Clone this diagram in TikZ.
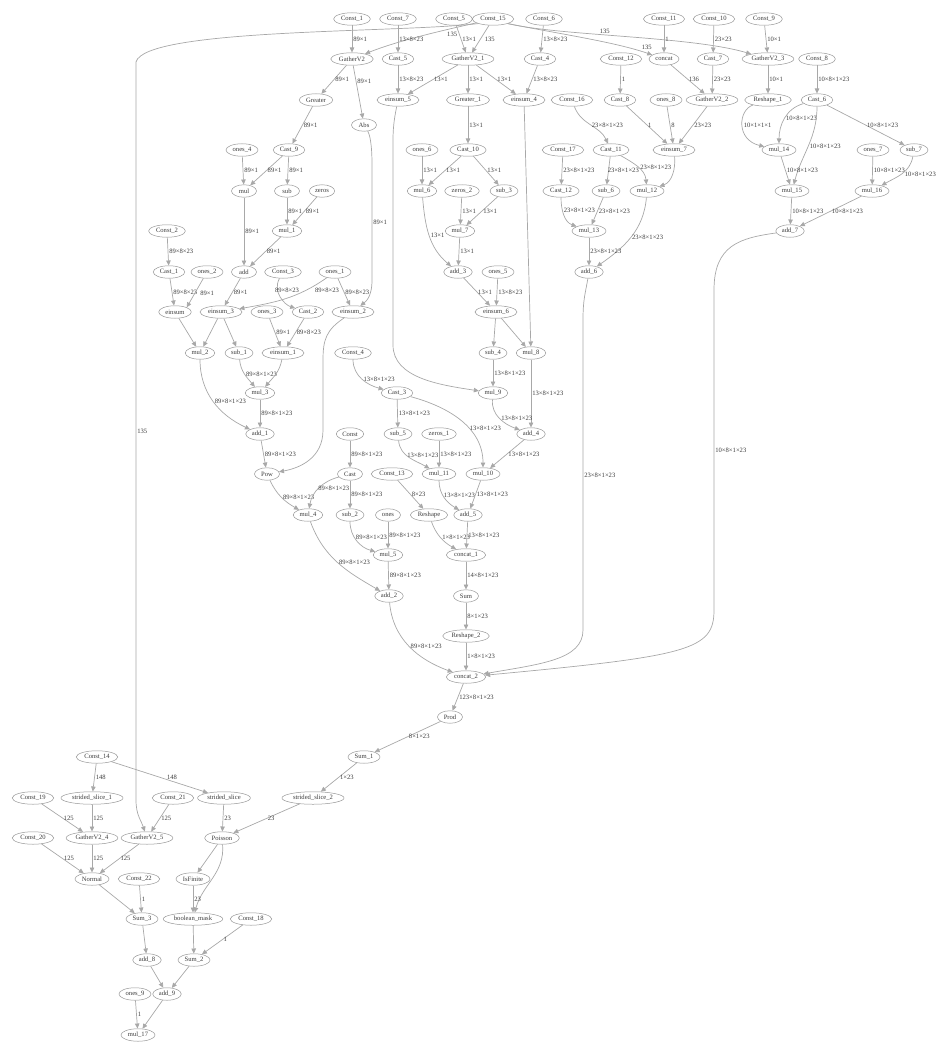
\documentclass[tikz,border=0pt]{standalone}
\usepackage{fontspec}
\setmainfont{Liberation Serif}
\usetikzlibrary{shapes.geometric,arrows.meta}
\definecolor{edgegray}{RGB}{168,168,168}
\definecolor{nodegray}{RGB}{150,150,150}
\definecolor{textgray}{RGB}{60,60,60}
\begin{document}
\begin{tikzpicture}[x=1pt,y=-1pt,every node/.style={font=\fontsize{6.6}{7}\selectfont,text=textgray},
  opnode/.style={ellipse,draw=nodegray,line width=0.5pt,inner xsep=2pt,inner ysep=0.5pt,minimum height=12.5pt,minimum width=25pt},
  link/.style={draw=edgegray,line width=0.7pt,-{Triangle[length=5pt,width=4.5pt]}},
  lbl/.style={anchor=west,inner sep=1pt}]
\useasboundingbox (0,0) rectangle (937,1043);
% row 1
\node[opnode] (const1) at (352,19) {Const\_1}; \node[opnode] (const7) at (398,19) {Const\_7}; \node[opnode] (const5) at (454,19) {Const\_5}; \node[opnode] (const15) at (493,19) {Const\_15};
\node[opnode] (const6) at (544,19) {Const\_6}; \node[opnode] (const11) at (664,19) {Const\_11}; \node[opnode] (const10) at (714,19) {Const\_10}; \node[opnode] (const9) at (764,19) {Const\_9};
% row 2
\node[opnode] (gv) at (352,59) {GatherV2}; \node[opnode] (cast5) at (398,59) {Cast\_5}; \node[opnode] (gv1) at (468,59) {GatherV2\_1}; \node[opnode] (cast4) at (540,59) {Cast\_4};
\node[opnode] (const12) at (621,59) {Const\_12}; \node[opnode] (concat) at (664,59) {concat}; \node[opnode] (cast7) at (713,59) {Cast\_7}; \node[opnode] (gv3) at (768,59) {GatherV2\_3}; \node[opnode] (const8) at (817,59) {Const\_8};
% row 3
\node[opnode] (greater) at (316,100) {Greater}; \node[opnode] (ein5) at (398,100) {einsum\_5}; \node[opnode] (greater1) at (468,100) {Greater\_1}; \node[opnode] (ein4) at (524,100) {einsum\_4};
\node[opnode] (const16) at (572,100) {Const\_16}; \node[opnode] (cast8) at (620,100) {Cast\_8}; \node[opnode] (ones8) at (666,100) {ones\_8}; \node[opnode] (gv2) at (712,100) {GatherV2\_2};
\node[opnode] (reshape1) at (768,100) {Reshape\_1}; \node[opnode] (cast6) at (817,100) {Cast\_6}; \node[opnode] (abs) at (364,125) {Abs};
% row 4
\node[opnode] (ones4) at (242,150) {ones\_4}; \node[opnode] (cast9) at (289,150) {Cast\_9}; \node[opnode] (ones6) at (422,150) {ones\_6}; \node[opnode] (cast10) at (468,150) {Cast\_10};
\node[opnode] (const17) at (563,150) {Const\_17}; \node[opnode] (cast11) at (611,150) {Cast\_11}; \node[opnode] (ein7) at (674,150) {einsum\_7}; \node[opnode] (mul14) at (779,150) {mul\_14};
\node[opnode] (ones7) at (873,150) {ones\_7}; \node[opnode] (sub7) at (914,150) {sub\_7};
% row 5
\node[opnode] (mul) at (244,191) {mul}; \node[opnode] (sub) at (287,191) {sub}; \node[opnode] (zeros) at (322,191) {zeros}; \node[opnode] (mul6) at (422,191) {mul\_6};
\node[opnode] (zeros2) at (462,191) {zeros\_2}; \node[opnode] (sub3) at (504,191) {sub\_3}; \node[opnode] (cast12) at (561,191) {Cast\_12}; \node[opnode] (sub6) at (606,191) {sub\_6};
\node[opnode] (mul12) at (647,191) {mul\_12}; \node[opnode] (mul15) at (792,191) {mul\_15}; \node[opnode] (mul16) at (872,191) {mul\_16};
% row 6
\node[opnode] (const2) at (167,231) {Const\_2}; \node[opnode] (mul1) at (287,231) {mul\_1}; \node[opnode] (mul7) at (460,231) {mul\_7}; \node[opnode] (mul13) at (589,231) {mul\_13}; \node[opnode] (add7) at (790,231) {add\_7};
% row 7
\node[opnode] (cast1) at (169,272) {Cast\_1}; \node[opnode] (ones2) at (207,272) {ones\_2}; \node[opnode] (add) at (244,272) {add}; \node[opnode] (const3) at (283,272) {Const\_3};
\node[opnode] (ones1) at (335,272) {ones\_1}; \node[opnode] (add3) at (458,272) {add\_3}; \node[opnode] (ones5) at (498,272) {ones\_5}; \node[opnode] (add6) at (589,272) {add\_6};
% row 8
\node[opnode] (ein) at (175,312) {einsum}; \node[opnode] (ein3) at (221,312) {einsum\_3}; \node[opnode] (ones3) at (267,312) {ones\_3}; \node[opnode] (cast2) at (308,312) {Cast\_2};
\node[opnode] (ein2) at (353,312) {einsum\_2}; \node[opnode] (ein6) at (496,312) {einsum\_6};
% row 9
\node[opnode] (mul2) at (200,353) {mul\_2}; \node[opnode] (sub1) at (239,353) {sub\_1}; \node[opnode] (ein1) at (283,353) {einsum\_1}; \node[opnode] (const4) at (353,353) {Const\_4};
\node[opnode] (sub4) at (493,353) {sub\_4}; \node[opnode] (mul8) at (531,353) {mul\_8};
% row 10
\node[opnode] (mul3) at (260,393) {mul\_3}; \node[opnode] (cast3) at (397,393) {Cast\_3}; \node[opnode] (mul9) at (493,393) {mul\_9};
% row 11
\node[opnode] (add1) at (260,434) {add\_1}; \node[opnode] (const) at (350,434) {Const}; \node[opnode] (sub5) at (398,434) {sub\_5}; \node[opnode] (zeros1) at (439,434) {zeros\_1}; \node[opnode] (add4) at (531,434) {add\_4};
% row 12
\node[opnode] (pow) at (267,474) {Pow}; \node[opnode] (cast) at (350,474) {Cast}; \node[opnode] (const13) at (392,474) {Const\_13}; \node[opnode] (mul11) at (439,474) {mul\_11}; \node[opnode] (mul10) at (483,474) {mul\_10};
% row 13
\node[opnode] (mul4) at (308,515) {mul\_4}; \node[opnode] (sub2) at (350,515) {sub\_2}; \node[opnode] (ones) at (388,515) {ones}; \node[opnode] (reshape) at (429,515) {Reshape}; \node[opnode] (add5) at (468,515) {add\_5};
% rows 14 - 19
\node[opnode] (mul5) at (388,555) {mul\_5}; \node[opnode] (concat1) at (466,555) {concat\_1};
\node[opnode] (add2) at (389,596) {add\_2}; \node[opnode] (sum) at (466,596) {Sum};
\node[opnode] (reshape2) at (466,636) {Reshape\_2};
\node[opnode] (concat2) at (466,677) {concat\_2};
\node[opnode] (prod) at (450,717) {Prod};
\node[opnode] (sum1) at (364,757) {Sum\_1}; \node[opnode] (const14) at (97,757) {Const\_14};
% bottom part
\node[opnode] (const19) at (33,798) {Const\_19}; \node[opnode] (ss1) at (92,798) {strided\_slice\_1}; \node[opnode] (const21) at (173,798) {Const\_21}; \node[opnode] (ss) at (224,798) {strided\_slice}; \node[opnode] (ss2) at (313,798) {strided\_slice\_2};
\node[opnode] (const20) at (33,838) {Const\_20}; \node[opnode] (gv4) at (92,838) {GatherV2\_4}; \node[opnode] (gv5) at (147,838) {GatherV2\_5}; \node[opnode] (poisson) at (222,838) {Poisson};
\node[opnode] (normal) at (92,879) {Normal}; \node[opnode] (const22) at (139,879) {Const\_22}; \node[opnode] (isfinite) at (193,879) {IsFinite};
\node[opnode] (sum3) at (142,919) {Sum\_3}; \node[opnode] (bmask) at (193,919) {boolean\_mask}; \node[opnode] (const18) at (251,919) {Const\_18};
\node[opnode] (add8) at (147,960) {add\_8}; \node[opnode] (sum2) at (194,960) {Sum\_2};
\node[opnode] (ones9) at (135,994) {ones\_9}; \node[opnode] (add9) at (167,994) {add\_9};
\node[opnode] (mul17) at (138,1035) {mul\_17};
% edges from the top row
\draw[link] (const1) -- node[lbl] {89×1} (gv);
\draw[link] (const15) .. controls (445,30) and (400,40) .. node[lbl,pos=0.45,xshift=18pt] {135} (gv);
\draw[link] (const7) -- node[lbl] {13×8×23} (cast5);
\draw[link] (const5) -- node[lbl] {13×1} (gv1);
\draw[link] (const15) -- node[lbl,xshift=3pt] {135} (gv1);
\draw[link] (const6) -- node[lbl] {13×8×23} (cast4);
\draw[link] (const15.south east) .. controls (560,34) and (615,42) .. node[lbl,pos=0.9,anchor=south west] {135} (concat);
\draw[link] (const15.south east) .. controls (560,36) and (690,36) .. node[lbl,pos=0.4,anchor=south west] {135} (gv3);
\draw[link] (const11) -- node[lbl] {1} (concat);
\draw[link] (const10) -- node[lbl] {23×23} (cast7);
\draw[link] (const9) -- node[lbl] {10×1} (gv3);
\draw[link] (const15.south west) .. controls (400,33) and (145,28) .. (136,62) -- node[lbl] {135} (136,800) .. controls (136,815) and (141,820) .. (gv5);
% second row
\draw[link] (gv) -- node[lbl] {89×1} (greater);
\draw[link] (gv) -- node[lbl,pos=0.3] {89×1} (abs);
\draw[link] (cast5) -- node[lbl] {13×8×23} (ein5);
\draw[link] (gv1) -- node[lbl] {13×1} (ein5);
\draw[link] (gv1) -- node[lbl] {13×1} (greater1);
\draw[link] (gv1) -- node[lbl] {13×1} (ein4);
\draw[link] (cast4) -- node[lbl] {13×8×23} (ein4);
\draw[link] (const12) -- node[lbl] {1} (cast8);
\draw[link] (concat) -- node[lbl] {136} (gv2);
\draw[link] (cast7) -- node[lbl] {23×23} (gv2);
\draw[link] (gv3) -- node[lbl] {10×1} (reshape1);
\draw[link] (const8) -- node[lbl] {10×8×1×23} (cast6);
% third row
\draw[link] (greater) -- node[lbl] {89×1} (cast9);
\draw[link] (greater1) -- node[lbl] {13×1} (cast10);
\draw[link] (const16) to[out=290,in=115] node[lbl] {23×8×1×23} (cast11);
\draw[link] (cast8) -- node[lbl] {1} (ein7);
\draw[link] (ones8) -- node[lbl] {8} (ein7);
\draw[link] (gv2) -- node[lbl] {23×23} (ein7);
\draw[link] (reshape1) .. controls (738,110) and (736,140) .. node[lbl] {10×1×1×1} (mul14);
\draw[link] (cast6) to[out=195,in=90] node[lbl] {10×8×1×23} (mul14);
\draw[link] (cast6) to[out=270,in=75] node[lbl] {10×8×1×23} (mul15);
\draw[link] (cast6) -- node[lbl] {10×8×1×23} (sub7);
\draw[link] (abs) .. controls (370,135) and (372,145) .. (372,165) -- node[lbl] {89×1} (372,280) .. controls (372,298) and (365,302) .. (ein2);
\draw[link] (ein5) .. controls (395,115) and (393,125) .. (393,140) -- (393,345) .. controls (393,378) and (440,385) .. (mul9);
\draw[link] (ein4) -- (mul8);
% fourth row
\draw[link] (ones4) -- node[lbl] {89×1} (mul);
\draw[link] (cast9) -- node[lbl] {89×1} (mul);
\draw[link] (cast9) -- node[lbl] {89×1} (sub);
\draw[link] (ones6) -- node[lbl] {13×1} (mul6);
\draw[link] (cast10) -- node[lbl] {13×1} (mul6);
\draw[link] (cast10) -- node[lbl] {13×1} (sub3);
\draw[link] (const17) -- node[lbl] {23×8×1×23} (cast12);
\draw[link] (cast11) -- node[lbl,xshift=-2pt] {23×8×1×23} (sub6);
\draw[link] (cast11) to[out=-30,in=95] node[lbl,xshift=1pt] {23×8×1×23} (mul12);
\draw[link] (ein7) to[out=275,in=20] (mul12);
\draw[link] (mul14) -- node[lbl] {10×8×1×23} (mul15);
\draw[link] (ones7) -- node[lbl] {10×8×1×23} (mul16);
\draw[link] (sub7) to[out=260,in=30] node[lbl,xshift=2pt] {10×8×1×23} (mul16);
% fifth row
\draw[link] (mul) -- node[lbl] {89×1} (add);
\draw[link] (sub) -- node[lbl] {89×1} (mul1);
\draw[link] (zeros) -- node[lbl] {89×1} (mul1);
\draw[link] (mul6) to[out=275,in=140] node[lbl] {13×1} (add3);
\draw[link] (zeros2) -- node[lbl] {13×1} (mul7);
\draw[link] (sub3) -- node[lbl] {13×1} (mul7);
\draw[link] (cast12) to[out=270,in=160] node[lbl,pos=0.35] {23×8×1×23} (mul13);
\draw[link] (sub6) -- node[lbl] {23×8×1×23} (mul13);
\draw[link] (mul12) to[out=265,in=35] node[lbl] {23×8×1×23} (add6);
\draw[link] (mul15) -- node[lbl] {10×8×1×23} (add7);
\draw[link] (mul16) -- node[lbl] {10×8×1×23} (add7);
\draw[link] (const2) -- node[lbl] {89×8×23} (cast1);
% sixth row
\draw[link] (mul1) -- node[lbl] {89×1} (add);
\draw[link] (mul7) -- node[lbl] {13×1} (add3);
\draw[link] (mul13) -- node[lbl] {23×8×1×23} (add6);
\draw[link] (add7) .. controls (740,238) and (714,245) .. (714,290) -- node[lbl] {10×8×1×23} (714,610) .. controls (714,650) and (690,656) .. (concat2);
\draw[link] (add6) .. controls (585,295) and (583,300) .. (583,320) -- node[lbl] {23×8×1×23} (583,630) .. controls (583,660) and (540,664) .. (concat2);
% einsum rows
\draw[link] (cast1) -- node[lbl] {89×8×23} (ein);
\draw[link] (ones2) -- node[lbl,xshift=4pt] {89×1} (ein.north east);
\draw[link] (add) -- node[lbl] {89×1} (ein3);
\draw[link] (ones1) to[out=215,in=10] node[lbl,pos=0.25,xshift=8pt] {89×8×23} (ein3);
\draw[link] (const3) .. controls (272,292) and (285,305) .. node[lbl,pos=0.3,xshift=-4pt] {89×8×23} (cast2);
\draw[link] (ones1) -- node[lbl] {89×8×23} (ein2);
\draw[link] (add3) -- node[lbl] {13×1} (ein6);
\draw[link] (ones5) -- node[lbl] {13×8×23} (ein6);
\draw[link] (ein) -- (mul2);
\draw[link] (ein3) -- (mul2);
\draw[link] (ein3) -- (sub1);
\draw[link] (ones3) -- node[lbl] {89×1} (ein1);
\draw[link] (cast2) -- node[lbl] {89×8×23} (ein1);
\draw[link] (ein6) -- (sub4);
\draw[link] (ein6) -- (mul8);
\draw[link] (ein2) .. controls (326,330) and (323,340) .. (323,360) -- (323,430) .. controls (323,458) and (300,468) .. (pow);
% middle rows
\draw[link] (mul2) to[out=270,in=155] node[lbl] {89×8×1×23} (add1);
\draw[link] (sub1) to[out=275,in=130] node[lbl] {89×8×1×23} (mul3);
\draw[link] (ein1) to[out=260,in=50] (mul3);
\draw[link] (const4) to[out=270,in=165] node[lbl] {13×8×1×23} (cast3);
\draw[link] (sub4) -- node[lbl] {13×8×1×23} (mul9);
\draw[link] (mul8) -- node[lbl] {13×8×1×23} (add4);
\draw[link] (mul3) -- node[lbl] {89×8×1×23} (add1);
\draw[link] (cast3) -- node[lbl] {13×8×1×23} (sub5);
\draw[link] (cast3) to[out=-15,in=90] node[lbl,pos=0.6] {13×8×1×23} (mul10);
\draw[link] (mul9) to[out=265,in=160] node[lbl] {13×8×1×23} (add4);
\draw[link] (const) -- node[lbl] {89×8×1×23} (cast);
\draw[link] (add1) -- node[lbl] {89×8×1×23} (pow);
\draw[link] (sub5) to[out=275,in=150] node[lbl,pos=0.4] {13×8×1×23} (mul11);
\draw[link] (zeros1) -- node[lbl] {13×8×1×23} (mul11);
\draw[link] (add4) -- node[lbl] {13×8×1×23} (mul10);
\draw[link] (pow) to[out=295,in=150] node[lbl] {89×8×1×23} (mul4);
\draw[link] (cast) to[out=195,in=80] node[lbl,xshift=-2pt] {89×8×1×23} (mul4);
\draw[link] (cast) -- node[lbl] {89×8×1×23} (sub2);
\draw[link] (const13) -- node[lbl] {8×23} (reshape);
\draw[link] (mul11) to[out=270,in=150] node[lbl,pos=0.4] {13×8×1×23} (add5);
\draw[link] (mul10) -- node[lbl] {13×8×1×23} (add5);
\draw[link] (sub2) to[out=270,in=165] node[lbl,pos=0.4] {89×8×1×23} (mul5);
\draw[link] (ones) -- node[lbl] {89×8×1×23} (mul5);
\draw[link] (reshape) to[out=290,in=150] node[lbl] {1×8×1×23} (concat1);
\draw[link] (add5) -- node[lbl] {13×8×1×23} (concat1);
\draw[link] (mul4) to[out=290,in=150] node[lbl] {89×8×1×23} (add2);
\draw[link] (mul5) -- node[lbl] {89×8×1×23} (add2);
\draw[link] (concat1) -- node[lbl] {14×8×1×23} (sum);
\draw[link] (sum) -- node[lbl] {8×1×23} (reshape2);
\draw[link] (add2) to[out=275,in=160] node[lbl] {89×8×1×23} (concat2);
\draw[link] (reshape2) -- node[lbl] {1×8×1×23} (concat2);
\draw[link] (concat2) -- node[lbl] {123×8×1×23} (prod);
\draw[link] (prod) -- node[lbl] {8×1×23} (sum1);
\draw[link] (sum1) -- node[lbl] {1×23} (ss2);
\draw[link] (ss2) -- node[lbl] {23} (poisson);
% bottom part
\draw[link] (const14) -- node[lbl] {148} (ss1);
\draw[link] (const14) -- node[lbl,xshift=6pt] {148} (ss);
\draw[link] (const19) -- node[lbl] {125} (gv4);
\draw[link] (ss1) -- node[lbl] {125} (gv4);
\draw[link] (const21) -- node[lbl] {125} (gv5);
\draw[link] (ss) -- node[lbl] {23} (poisson);
\draw[link] (const20) -- node[lbl] {125} (normal);
\draw[link] (gv4) -- node[lbl] {125} (normal);
\draw[link] (gv5) -- node[lbl] {125} (normal);
\draw[link] (poisson) -- (isfinite);
\draw[link] (poisson) to[out=275,in=75] (bmask);
\draw[link] (normal) -- (sum3);
\draw[link] (const22) -- node[lbl] {1} (sum3);
\draw[link] (isfinite) -- node[lbl] {23} (bmask);
\draw[link] (const18) -- node[lbl] {1} (sum2);
\draw[link] (sum3) -- (add8);
\draw[link] (bmask) -- (sum2);
\draw[link] (add8) -- (add9);
\draw[link] (sum2) -- (add9);
\draw[link] (ones9) -- node[lbl] {1} (mul17);
\draw[link] (add9) -- (mul17);
\end{tikzpicture}
\end{document}
